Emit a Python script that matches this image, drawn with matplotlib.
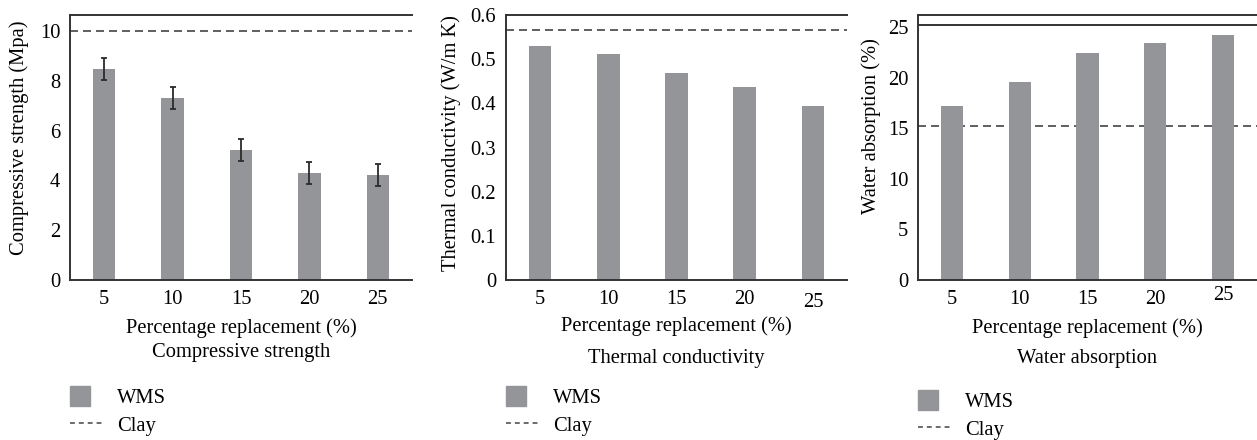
import matplotlib
matplotlib.use("Agg")
import matplotlib.pyplot as plt
from matplotlib.patches import Patch, Rectangle
from matplotlib.lines import Line2D
from matplotlib.legend_handler import HandlerPatch

plt.rcParams['font.family'] = ['Liberation Serif', 'DejaVu Serif']
plt.rcParams['font.size'] = 14.8

# données
categories = ["5", "10", "15", "20", "25"]
compressive = [8.47, 7.31, 5.22, 4.30, 4.22]
compressive_err = [0.45, 0.43, 0.45, 0.43, 0.43]
thermal = [0.530, 0.512, 0.469, 0.437, 0.394]
water = [17.2, 19.6, 22.4, 23.4, 24.2]
clay_compressive = 10.0
clay_thermal = 0.565
clay_water = 15.2
water_top_line = 25.2

bar_col = '#939598'
line_col = '#333333'
dash_col = '#444444'


def square(legend, orig_handle, xdescent, ydescent, width, height, fontsize):
    # petit carré gris de la légende
    s = 14.6
    return Rectangle((-xdescent, -ydescent + height / 2 - s / 2), s, s)


def panel(ax, values, clay, ylim, yticks, ylab, title, lab_xy, title_y, leg_y, err=None):
    x = range(len(categories))
    ax.bar(x, values, width=0.33, color=bar_col, zorder=2)
    if err is not None:
        ax.errorbar(x, values, yerr=err, fmt='none', ecolor='#2b2b2b',
                    elinewidth=1.3, capsize=2.5, capthick=1.3, zorder=3)
    ax.axhline(clay, color=dash_col, lw=1.2, ls=(0, (4.8, 3.0)), zorder=1)
    ax.set_xlim(-0.5, 4.5)
    ax.set_ylim(*ylim)
    ax.set_yticks(yticks)
    ax.set_xticks(list(x))
    ax.set_xticklabels(categories)
    ax.tick_params(length=0, pad=7)
    for s in ['left', 'bottom', 'top']:
        ax.spines[s].set_color(line_col)
        ax.spines[s].set_linewidth(1.4)
    ax.spines['right'].set_visible(False)
    ax.set_ylabel(ylab)
    ax.yaxis.set_label_coords(*lab_xy)
    ax.set_xlabel("Percentage replacement (%)", labelpad=7)
    ax.text(0.5, title_y, title, transform=ax.transAxes, ha='center', va='center')
    handles = [Patch(color=bar_col),
               Line2D([0], [0], color=dash_col, lw=1.1, ls=(0, (3.2, 2.6)))]
    ax.legend(handles, ["WMS", "Clay"], loc='upper left', bbox_to_anchor=(0, leg_y),
              frameon=False, borderpad=0, borderaxespad=0, handlelength=1.65,
              handleheight=1.0, handletextpad=0.65, labelspacing=0.36,
              handler_map={Patch: HandlerPatch(patch_func=square)})


fig = plt.figure(figsize=(12.57, 4.4), dpi=100)
ax1 = fig.add_axes([70 / 1257, 160 / 440, 342 / 1257, 265 / 440])
ax2 = fig.add_axes([506 / 1257, 160 / 440, 341 / 1257, 265 / 440])
ax3 = fig.add_axes([918 / 1257, 160 / 440, 339 / 1257, 265 / 440])

panel(ax1, compressive, clay_compressive, (0, 10.64), [0, 2, 4, 6, 8, 10],
      "Compressive strength (Mpa)", "Compressive strength", (-0.12, 0.536),
      -0.272, -0.402, err=compressive_err)
panel(ax2, thermal, clay_thermal, (0, 0.6), [0, 0.1, 0.2, 0.3, 0.4, 0.5, 0.6],
      "Thermal conductivity (W/m K)", "Thermal conductivity", (-0.132, 0.517),
      -0.298, -0.402)
ax2.set_yticklabels(["0", "0.1", "0.2", "0.3", "0.4", "0.5", "0.6"])
ax2.xaxis.labelpad = 3
panel(ax3, water, clay_water, (0, 26.2), [0, 5, 10, 15, 20, 25],
      "Water absorption (%)", "Water absorption", (-0.109, 0.581),
      -0.298, -0.417)
ax3.axhline(water_top_line, color=line_col, lw=1.4, zorder=1)

# décalages des étiquettes "25" comme sur l'original
ax2.get_xticklabels()[-1].set_y(-0.012)
ax3.get_xticklabels()[-1].set_y(0.015)

fig.savefig("out.png", dpi=100)
